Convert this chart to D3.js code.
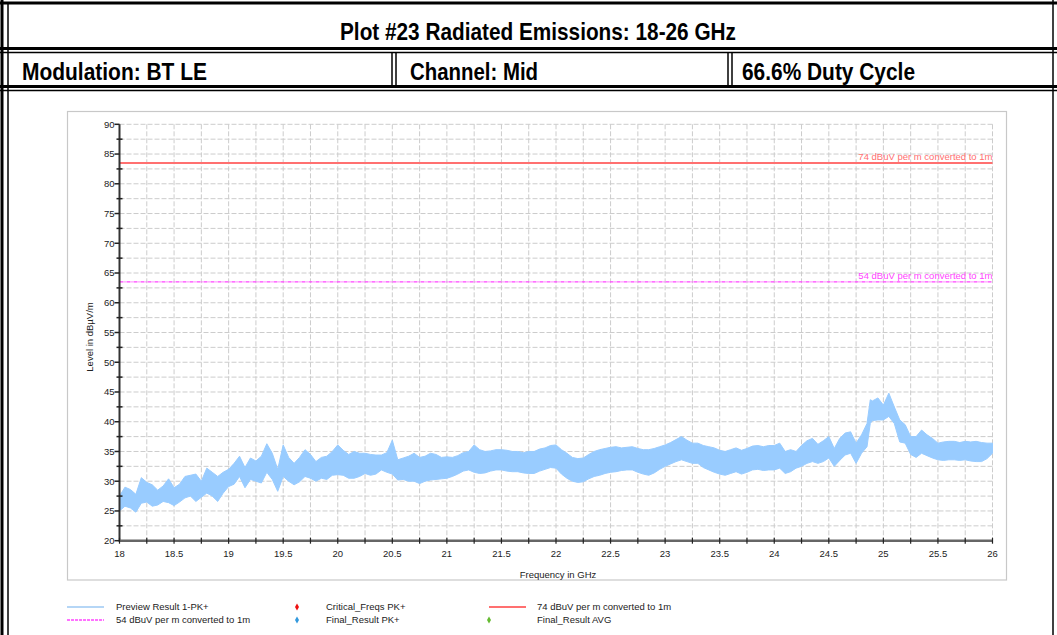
<!DOCTYPE html>
<html>
<head>
<meta charset="utf-8">
<script src="https://cdn.jsdelivr.net/npm/d3@7/dist/d3.min.js"></script>
<style>
  body { margin: 0; background: #fff; }
  svg { display: block; }
  .hdr { font-family: "Liberation Sans", Arial, sans-serif; font-weight: bold; fill: #000; }
  .lbl { font-family: "Liberation Sans", Arial, sans-serif; }
</style>
</head>
<body>
<script>
// Header texts
var titleText = "Plot #23 Radiated Emissions: 18-26 GHz";
var cellTexts = ["Modulation: BT LE", "Channel: Mid", "66.6% Duty Cycle"];

// Trace: Preview Result 1-PK+ (envelope of the noisy sweep)
var freqGHz = [18.00,18.05,18.10,18.15,18.20,18.25,18.30,18.35,18.40,18.45,18.50,18.55,18.60,18.65,18.70,18.75,18.80,18.85,18.90,18.95,
  19.00,19.05,19.10,19.15,19.20,19.25,19.30,19.35,19.40,19.45,19.50,19.55,19.60,19.65,19.70,19.75,19.80,19.85,19.90,19.95,
  20.00,20.05,20.10,20.15,20.20,20.25,20.30,20.35,20.40,20.45,20.50,20.55,20.60,20.65,20.70,20.75,20.80,20.85,20.90,20.95,
  21.00,21.05,21.10,21.15,21.20,21.25,21.30,21.35,21.40,21.45,21.50,21.55,21.60,21.65,21.70,21.75,21.80,21.85,21.90,21.95,
  22.00,22.05,22.10,22.15,22.20,22.25,22.30,22.35,22.40,22.45,22.50,22.55,22.60,22.65,22.70,22.75,22.80,22.85,22.90,22.95,
  23.00,23.05,23.10,23.15,23.20,23.25,23.30,23.35,23.40,23.45,23.50,23.55,23.60,23.65,23.70,23.75,23.80,23.85,23.90,23.95,
  24.00,24.05,24.10,24.15,24.20,24.25,24.30,24.35,24.40,24.45,24.50,24.55,24.60,24.65,24.70,24.75,24.80,24.85,24.88,24.90,24.95,
  25.00,25.05,25.10,25.15,25.20,25.25,25.30,25.35,25.40,25.45,25.50,25.55,25.60,25.65,25.70,25.75,25.80,25.85,25.90,25.95,26.00];
var levelLow = [25.0,25.8,25.5,24.8,26.3,26.5,25.8,26.0,26.6,26.4,25.9,26.5,27.2,27.5,26.6,27.3,28.0,27.5,26.6,28.0,
  29.1,29.5,30.8,28.9,30.3,30.0,29.7,31.5,30.3,28.3,30.8,30.0,29.4,29.9,30.8,30.5,30.0,30.5,30.3,31.0,
  31.1,31.0,30.5,30.5,30.8,31.3,31.0,31.2,31.9,31.5,31.2,30.2,30.3,30.0,30.0,29.6,30.0,30.2,30.3,30.4,
  30.5,30.8,31.2,31.7,31.9,31.5,31.3,31.4,31.7,31.9,31.9,31.7,31.6,31.6,31.4,31.3,31.3,31.7,32.0,32.3,
  32.2,31.2,30.5,30.0,29.8,29.9,30.4,30.8,31.0,31.3,31.5,31.6,31.8,31.9,31.9,31.5,31.2,31.0,31.4,32.0,
  32.5,32.9,33.3,33.6,33.3,33.0,33.0,32.3,31.9,31.5,31.2,31.0,31.3,31.6,31.2,31.5,31.9,32.0,31.8,31.9,
  31.9,32.2,31.3,31.6,32.2,32.5,33.0,33.3,33.0,33.3,33.9,32.5,33.5,34.4,34.7,33.0,34.7,35.8,39.7,40.2,40.3,
  40.3,40.9,39.7,36.6,36.4,34.5,34.0,34.7,34.3,33.9,33.6,33.5,33.6,33.6,33.5,33.6,33.4,33.3,33.3,33.8,34.7];
var levelHigh = [27.5,29.0,28.6,27.8,30.6,29.8,29.4,28.5,29.2,30.4,28.9,29.5,30.8,31.0,31.2,30.0,32.2,31.5,30.8,31.5,
  32.0,33.0,34.2,32.3,33.9,33.4,34.2,36.3,34.7,32.0,36.1,34.0,33.0,34.0,35.3,34.5,33.3,34.0,34.2,35.0,
  36.1,35.2,34.5,35.0,34.7,34.7,34.5,34.4,34.4,34.8,36.9,33.6,33.9,34.2,34.7,34.0,34.2,34.7,34.5,34.0,
  34.1,34.0,34.3,34.8,35.0,36.1,35.3,35.0,35.1,35.3,35.3,35.2,35.0,35.0,34.8,35.0,35.0,35.4,35.6,36.0,
  36.1,35.3,34.7,34.0,33.8,33.9,34.5,35.0,35.3,35.5,35.7,35.8,35.6,35.7,35.8,35.5,35.3,35.3,35.5,35.8,
  36.1,36.5,37.0,37.5,36.9,36.4,36.4,36.0,35.8,35.6,35.2,35.0,35.3,35.6,35.2,35.5,35.9,36.0,35.8,36.0,
  36.0,36.4,35.0,35.3,35.0,36.0,36.8,37.2,36.2,36.8,37.5,35.5,37.2,38.1,38.3,36.4,37.8,39.7,43.7,43.5,44.0,
  42.8,44.8,42.5,40.3,39.5,37.5,37.5,38.6,37.8,37.2,36.4,36.6,36.7,36.7,36.5,36.7,36.6,36.7,36.5,36.4,36.4];

// Limit lines (dBuV/m at 1 m)
var limitPeak = 83.5, limitAvg = 63.5;
var limitPeakLabel = "74 dBuV per m converted to 1m";
var limitAvgLabel = "54 dBuV per m converted to 1m";

// Axes
var xTickLabels = [18, 18.5, 19, 19.5, 20, 20.5, 21, 21.5, 22, 22.5, 23, 23.5, 24, 24.5, 25, 25.5, 26];
var yTickLabels = [20, 25, 30, 35, 40, 45, 50, 55, 60, 65, 70, 75, 80, 85, 90];

// Legend
var legendNames = ["Preview Result 1-PK+", "Critical_Freqs PK+", "74 dBuV per m converted to 1m",
                   "54 dBuV per m converted to 1m", "Final_Result PK+", "Final_Result AVG"];
var legendKinds = ["line", "diamond", "line", "dash", "diamond", "diamond"];
var legendColors = ["#b5d6f6", "#ee1111", "#ff7070", "#ff44ff", "#3399dd", "#66bb33"];

var W = 1057, H = 635;
var plot = {left: 119.5, right: 992.5, top: 124.3, bottom: 540.7};

var svg = d3.select("body").append("svg").attr("width", W).attr("height", H);

//
// Table frame (document style double borders)
//
var frame = svg.append("g").attr("stroke", "#000").attr("fill", "none");
function hline(x1, x2, y, w) { frame.append("line").attr("x1", x1).attr("x2", x2).attr("y1", y).attr("y2", y).attr("stroke-width", w); }
function vline(x, y1, y2, w) { frame.append("line").attr("x1", x).attr("x2", x).attr("y1", y1).attr("y2", y2).attr("stroke-width", w); }
hline(0, W, 3, 3);
hline(0, W, 48.5, 3); hline(0, W, 52.5, 1.5);
hline(0, W, 86.5, 3); hline(0, W, 90.5, 1.5);
vline(2, 0, H, 3); vline(8, 4, H, 1.5);
vline(1053, 0, H, 1.5);
vline(392, 52, 87, 1.5); vline(396, 52, 87, 1.5);
vline(728, 52, 87, 1.5); vline(732, 52, 87, 1.5);

// Condensed bold header text, fitted to the widths seen in the reference
svg.append("text").attr("class", "hdr").attr("x", 340).attr("y", 40)
    .attr("textLength", 396).attr("lengthAdjust", "spacingAndGlyphs")
    .style("font-size", "24px").text(titleText);
var cellX = [22, 410, 742], cellW = [185, 128, 173];
cellTexts.forEach(function(t, i) {
    svg.append("text").attr("class", "hdr").attr("x", cellX[i]).attr("y", 80)
        .attr("textLength", cellW[i]).attr("lengthAdjust", "spacingAndGlyphs")
        .style("font-size", "24px").text(t);
});

// Chart panel
svg.append("rect").attr("x", 67.5).attr("y", 111.5).attr("width", 939).attr("height", 468.5)
    .attr("fill", "#fff").attr("stroke", "#c8c8c8").attr("stroke-width", 1.2);

// Scales
var x = d3.scaleLinear().domain([18, 26]).range([plot.left, plot.right]);
var y = d3.scaleLinear().domain([20, 90]).range([plot.bottom, plot.top]);

// Grid every 0.25 GHz and 2.5 dB
var grid = svg.append("g").attr("stroke", "#cccccc").attr("stroke-width", 1).attr("stroke-dasharray", "5,2");
grid.selectAll("line.gx").data(d3.range(0, 33).map(function(i) { return 18 + i * 0.25; }))
    .enter().append("line").attr("class", "gx")
    .attr("x1", function(d) { return x(d); }).attr("x2", function(d) { return x(d); })
    .attr("y1", plot.top).attr("y2", plot.bottom);
grid.selectAll("line.gy").data(d3.range(0, 29).map(function(i) { return 20 + i * 2.5; }))
    .enter().append("line").attr("class", "gy")
    .attr("x1", plot.left).attr("x2", plot.right)
    .attr("y1", function(d) { return y(d); }).attr("y2", function(d) { return y(d); });

// Limit lines
svg.append("line").attr("x1", plot.left).attr("x2", plot.right)
    .attr("y1", y(limitPeak)).attr("y2", y(limitPeak))
    .attr("stroke", "#ff7070").attr("stroke-width", 2);
svg.append("line").attr("x1", plot.left).attr("x2", plot.right)
    .attr("y1", y(limitAvg)).attr("y2", y(limitAvg))
    .attr("stroke", "#ff44ff").attr("stroke-width", 1.2).attr("stroke-dasharray", "4,1,1,1");
svg.append("text").attr("class", "lbl").attr("x", plot.right).attr("y", y(limitPeak) - 3)
    .attr("text-anchor", "end").style("font-size", "9.5px").attr("fill", "#ff6f6f").text(limitPeakLabel);
svg.append("text").attr("class", "lbl").attr("x", plot.right).attr("y", y(limitAvg) - 3)
    .attr("text-anchor", "end").style("font-size", "9.5px").attr("fill", "#ff44ff").text(limitAvgLabel);

// Trace band
var trace = freqGHz.map(function(f, i) { return {f: f, lo: levelLow[i], hi: levelHigh[i]}; });
var area = d3.area()
    .x(function(d) { return x(d.f); })
    .y0(function(d) { return y(d.lo); })
    .y1(function(d) { return y(d.hi); });
svg.append("path").datum(trace).attr("d", area)
    .attr("fill", "#99ccff").attr("stroke", "#99ccff").attr("stroke-width", 1);

// Axes
var axes = svg.append("g").attr("class", "lbl");
axes.append("line").attr("x1", plot.left).attr("x2", plot.left).attr("y1", plot.top).attr("y2", plot.bottom + 1)
    .attr("stroke", "#333").attr("stroke-width", 2);
axes.append("line").attr("x1", plot.left).attr("x2", plot.right).attr("y1", plot.bottom).attr("y2", plot.bottom)
    .attr("stroke", "#666").attr("stroke-width", 2.5);

var minorY = d3.range(0, 29).map(function(i) { return 20 + i * 2.5; });
axes.selectAll("line.ty").data(minorY).enter().append("line")
    .attr("x1", function(d) { return d % 5 === 0 ? plot.left - 5 : plot.left - 3; })
    .attr("x2", function(d) { return d % 5 === 0 ? plot.left : plot.left + 3; })
    .attr("y1", function(d) { return y(d); }).attr("y2", function(d) { return y(d); })
    .attr("stroke", "#222").attr("stroke-width", 1.5);
axes.selectAll("text.ty").data(yTickLabels).enter().append("text")
    .attr("x", plot.left - 5).attr("y", function(d) { return y(d); }).attr("dy", "0.35em")
    .attr("text-anchor", "end").style("font-size", "9.5px").attr("fill", "#222")
    .text(function(d) { return d; });

var minorX = d3.range(0, 33).map(function(i) { return 18 + i * 0.25; });
axes.selectAll("line.tx").data(minorX).enter().append("line")
    .attr("x1", function(d) { return x(d); }).attr("x2", function(d) { return x(d); })
    .attr("y1", plot.bottom - 3).attr("y2", plot.bottom + 3)
    .attr("stroke", "#222").attr("stroke-width", 1.2);
axes.selectAll("text.tx").data(xTickLabels).enter().append("text")
    .attr("x", function(d) { return x(d); }).attr("y", plot.bottom + 16)
    .attr("text-anchor", "middle").style("font-size", "9.5px").attr("fill", "#222")
    .text(function(d) { return d; });

axes.append("text").attr("x", (plot.left + plot.right) / 2 + 2).attr("y", 578)
    .attr("text-anchor", "middle").style("font-size", "9.5px").attr("fill", "#222")
    .text("Frequency in GHz");
axes.append("text").attr("transform", "translate(93,337)rotate(-90)")
    .attr("text-anchor", "middle").style("font-size", "9.5px").attr("fill", "#222")
    .text("Level in dBµV/m");

//
// Legend
//
var legX = [67, 297, 489], legTextX = [116, 326, 537], legY = [607, 620];
var legend = svg.append("g").attr("class", "lbl");
legendNames.forEach(function(name, i) {
    var col = i % 3, row = Math.floor(i / 3);
    var ly = legY[row];
    if (legendKinds[i] === "line" || legendKinds[i] === "dash") {
        legend.append("line").attr("x1", legX[col]).attr("x2", legX[col] + 37)
            .attr("y1", ly).attr("y2", ly)
            .attr("stroke", legendColors[i]).attr("stroke-width", legendKinds[i] === "line" ? 2 : 1.5)
            .attr("stroke-dasharray", legendKinds[i] === "dash" ? "3,1" : null);
    } else {
        legend.append("path")
            .attr("d", "M0,-3.5L2,0L0,3.5L-2,0Z")
            .attr("transform", "translate(" + legX[col] + "," + ly + ")")
            .attr("fill", legendColors[i]);
    }
    legend.append("text").attr("x", legTextX[col]).attr("y", ly).attr("dy", "0.35em")
        .style("font-size", "9.5px").attr("fill", "#222").text(name);
});
</script>
</body>
</html>
